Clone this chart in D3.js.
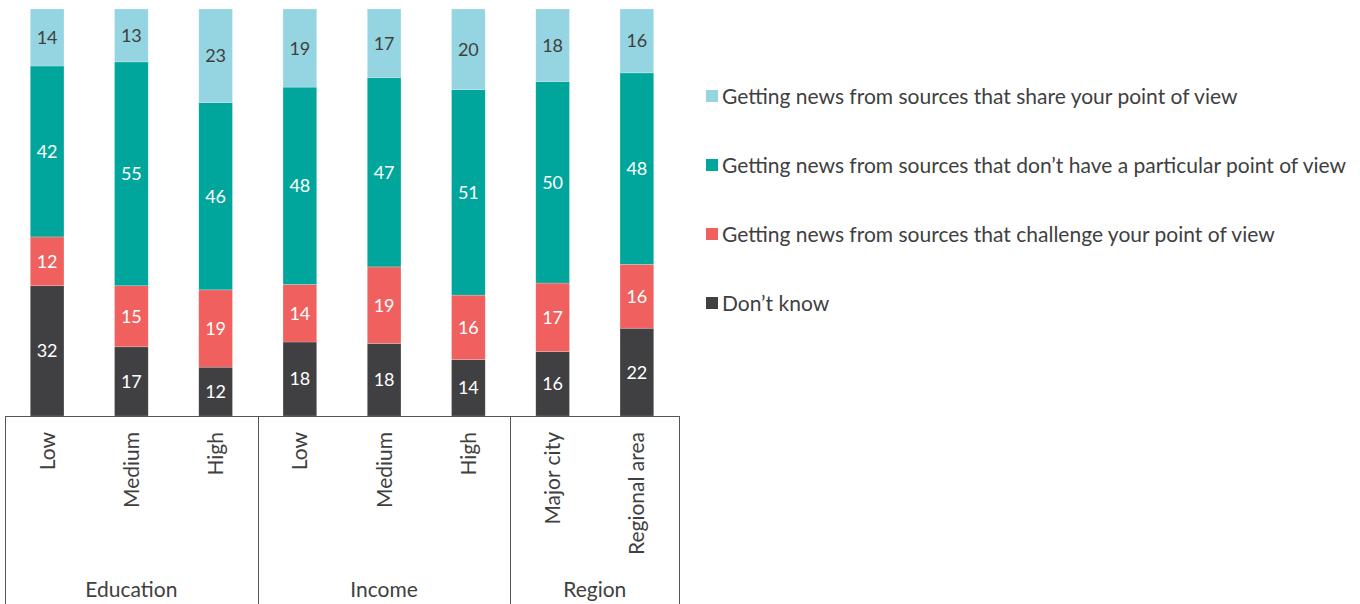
<!DOCTYPE html>
<html>
<head>
<meta charset="utf-8">
<script src="https://cdn.jsdelivr.net/npm/d3@7"></script>
<style>
  body { margin: 0; background: #fff; }
  text { font-family: Lato, "Open Sans", sans-serif; fill: #404040; }
</style>
</head>
<body>
<svg id="chart" width="1360" height="604"></svg>
<script>
// categories (bottom axis) and the group each one belongs to
var categories = ["Low", "Medium", "High", "Low ", "Medium ", "High ", "Major city", "Regional area"];
var groups = ["Education", "Income", "Region"];
var groupSizes = [3, 3, 2];

// series, listed bottom to top of each stack
var seriesNames = [
    "Don\u2019t know",
    "Getting news from sources that challenge your point of view",
    "Getting news from sources that don\u2019t have a particular point of view",
    "Getting news from sources that share your point of view"
];
var dontKnow   = [32, 17, 12, 18, 18, 14, 16, 22];
var challenge  = [12, 15, 19, 14, 19, 16, 17, 16];
var noView     = [42, 55, 46, 48, 47, 51, 50, 48];
var shareView  = [14, 13, 23, 19, 17, 20, 18, 16];

var colors = ["#404042", "#f0605e", "#00a69c", "#95d5e2"];
var labelColors = ["#fff", "#fff", "#fff", "#404040"];

var svg = d3.select("#chart");

var plotLeft = 5, plotRight = 679, plotTop = 9, plotBottom = 416;

// rows for d3.stack
var rows = categories.map(function(c, i){
    return { cat: c, s0: dontKnow[i], s1: challenge[i], s2: noView[i], s3: shareView[i] };
});
var keys = ["s0", "s1", "s2", "s3"];
var stack = d3.stack().keys(keys).offset(d3.stackOffsetExpand);
var layers = stack(rows);

var x = d3.scaleBand()
    .domain(categories)
    .range([plotLeft, plotRight])
    .paddingInner(0.6)
    .paddingOuter(0.3);

var y = d3.scaleLinear().domain([0, 1]).range([plotBottom, plotTop]);

var layerG = svg.selectAll(".layer")
    .data(layers)
    .enter()
    .append("g")
    .attr("class", "layer")
    .attr("fill", function(d, i){ return colors[i]; });

layerG.selectAll("rect")
    .data(function(d){ return d; })
    .enter()
    .append("rect")
    .attr("x", function(d){ return x(d.data.cat); })
    .attr("width", x.bandwidth())
    .attr("y", function(d){ return y(d[1]); })
    .attr("height", function(d){ return y(d[0]) - y(d[1]); })
    .attr("stroke", "rgba(255,255,255,0.35)")
    .attr("stroke-width", 0.6);

// value labels centred in each segment
layerG.each(function(layer, li){
    d3.select(this).selectAll("text")
        .data(layer)
        .enter()
        .append("text")
        .attr("x", function(d){ return x(d.data.cat) + x.bandwidth() / 2; })
        .attr("y", function(d){ return (y(d[0]) + y(d[1])) / 2; })
        .attr("dy", "0.36em")
        .attr("text-anchor", "middle")
        .style("font-size", "18px")
        .style("fill", labelColors[li])
        .text(function(d){ return d.data[layer.key]; });
});

// bottom axis: category labels rotated
var xAxis = d3.axisBottom(x).tickSize(0).tickPadding(0).tickFormat(function(d){ return d.trim(); });
var axisG = svg.append("g")
    .attr("transform", "translate(0," + plotBottom + ")")
    .call(xAxis);
axisG.select(".domain").remove();
axisG.selectAll(".tick text")
    .attr("transform", "rotate(-90)")
    .attr("x", -16)
    .attr("y", 0)
    .attr("dy", "0.36em")
    .attr("text-anchor", "end")
    .style("font-size", "21px")
    .style("font-family", "Lato, sans-serif")
    .style("fill", "#404040");

// frame lines
var lineColor = "#555";
svg.append("line")
    .attr("x1", plotLeft).attr("x2", plotRight)
    .attr("y1", plotBottom + 0.5).attr("y2", plotBottom + 0.5)
    .attr("stroke", lineColor).attr("stroke-width", 1);

// dividers sit half an inner gap after the last band of each group
var edges = [plotLeft];
var acc = 0;
groupSizes.forEach(function(n){
    acc += n;
    edges.push(x(categories[acc - 1]) + x.bandwidth() + x.step() * x.paddingInner() / 2);
});
edges[edges.length - 1] = plotRight;

svg.selectAll(".divider")
    .data(edges)
    .enter()
    .append("line")
    .attr("class", "divider")
    .attr("x1", function(d){ return Math.round(d) + 0.5; })
    .attr("x2", function(d){ return Math.round(d) + 0.5; })
    .attr("y1", plotBottom)
    .attr("y2", 604)
    .attr("stroke", lineColor)
    .attr("stroke-width", 1);

svg.selectAll(".group-label")
    .data(groups)
    .enter()
    .append("text")
    .attr("class", "group-label")
    .attr("x", function(d, i){ return (edges[i] + edges[i + 1]) / 2; })
    .attr("y", 597)
    .attr("text-anchor", "middle")
    .style("font-size", "21px")
    .text(function(d){ return d; });

// legend, top entry first
var legendY = [96, 165, 234, 303];
var legend = svg.selectAll(".legend")
    .data(d3.range(seriesNames.length).reverse())
    .enter()
    .append("g")
    .attr("class", "legend")
    .attr("transform", function(d, i){ return "translate(706," + legendY[i] + ")"; });

legend.append("rect")
    .attr("x", 0)
    .attr("y", -6)
    .attr("width", 12)
    .attr("height", 12)
    .attr("fill", function(d){ return colors[d]; });

legend.append("text")
    .attr("x", 16)
    .attr("y", 0)
    .attr("dy", "0.36em")
    .style("font-size", "21px")
    .text(function(d){ return seriesNames[d]; });
</script>
</body>
</html>
